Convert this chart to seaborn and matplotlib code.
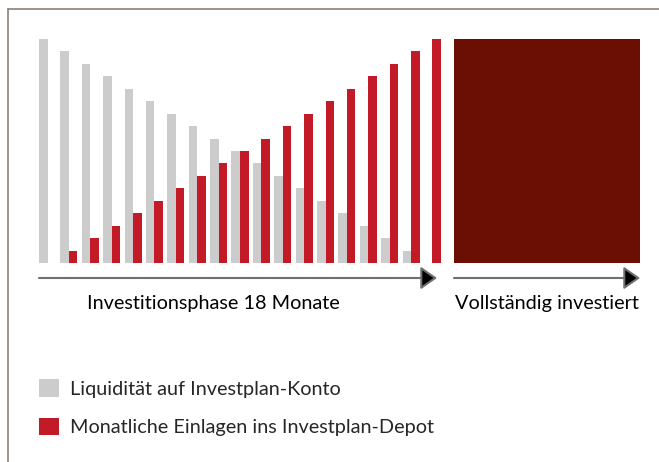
import matplotlib
matplotlib.use("Agg")
import matplotlib.pyplot as plt
from matplotlib.lines import Line2D
from matplotlib.patches import FancyArrowPatch
import seaborn as sns
import pandas as pd

# Werte (Einheiten = Monatsraten)
monate = [0, 1, 2, 3, 4, 5, 6, 7, 8, 9, 10, 11, 12, 13, 14, 15, 16, 17, 18]
liquiditaet = [18, 17, 16, 15, 14, 13, 12, 11, 10, 9, 8, 7, 6, 5, 4, 3, 2, 1, 0]
einlagen = [0, 1, 2, 3, 4, 5, 6, 7, 8, 9, 10, 11, 12, 13, 14, 15, 16, 17, 18]
investiert = [18]

serien = ["Liquidität auf Investplan-Konto", "Monatliche Einlagen ins Investplan-Depot"]
farben = {serien[0]: "#CBCCCB", serien[1]: "#C31A28"}
dunkelrot = "#6B0E04"
rahmen = "#8B8178"

df = pd.DataFrame({
    "monat": monate * 2,
    "wert": liquiditaet + einlagen,
    "reihe": [serien[0]] * len(monate) + [serien[1]] * len(monate),
})

W, H = 659, 462
sns.set_style("white")
plt.rcParams["font.family"] = ["Lato", "DejaVu Sans"]
fs = 14.3

fig = plt.figure(figsize=(W / 100, H / 100), dpi=100)


def fx(px):
    return px / W


def fy(py):
    return 1 - py / H


# Balken der Investitionsphase
ax = fig.add_axes([fx(39), fy(263), (441 - 39) / W, (263 - 39) / H])
sns.barplot(data=df, x="monat", y="wert", hue="reihe", hue_order=serien,
            palette=farben, width=0.8, saturation=1, linewidth=0, ax=ax)
ax.set_xlim(-0.4, 18.4)
ax.set_ylim(0, 18)
ax.axis("off")
handles, labels = ax.get_legend_handles_labels()
ax.get_legend().remove()

# Block "vollständig investiert"
ax2 = fig.add_axes([fx(454), fy(263), (640 - 454) / W, (263 - 39) / H])
sns.barplot(x=["Vollständig investiert"], y=investiert, color=dunkelrot,
            width=1, saturation=1, linewidth=0, ax=ax2)
ax2.set_xlim(-0.5, 0.5)
ax2.set_ylim(0, 18)
ax2.axis("off")

# Pfeile
pfeil = dict(arrowstyle="-|>,head_length=1.0,head_width=0.7", mutation_scale=10,
             ec="#6f6f6f", fc="black", lw=1.5, shrinkA=0, shrinkB=0)
fig.add_artist(FancyArrowPatch((fx(39), fy(278)), (fx(437), fy(278)),
                               transform=fig.transFigure, **pfeil))
fig.add_artist(FancyArrowPatch((fx(454), fy(278)), (fx(640), fy(278)),
                               transform=fig.transFigure, **pfeil))

fig.text(fx(213), fy(303), "Investitionsphase 18 Monate", ha="center", va="center",
         fontsize=fs, color="black")
fig.text(fx(547), fy(303), "Vollständig investiert", ha="center", va="center",
         fontsize=fs, color="black")

# Legende
fig.legend(handles, labels, loc="upper left", bbox_to_anchor=(fx(39), fy(379)),
           frameon=False, fontsize=fs, handlelength=1.0, handleheight=1.0,
           handletextpad=0.55, labelspacing=1.0, borderpad=0, borderaxespad=0)

# Rahmen oben und links
fig.add_artist(Line2D([fx(8), 1], [fy(9), fy(9)], color=rahmen, lw=1.2))
fig.add_artist(Line2D([fx(8), fx(8)], [fy(9), 0], color=rahmen, lw=1.2))

fig.savefig("out.png", dpi=100)
